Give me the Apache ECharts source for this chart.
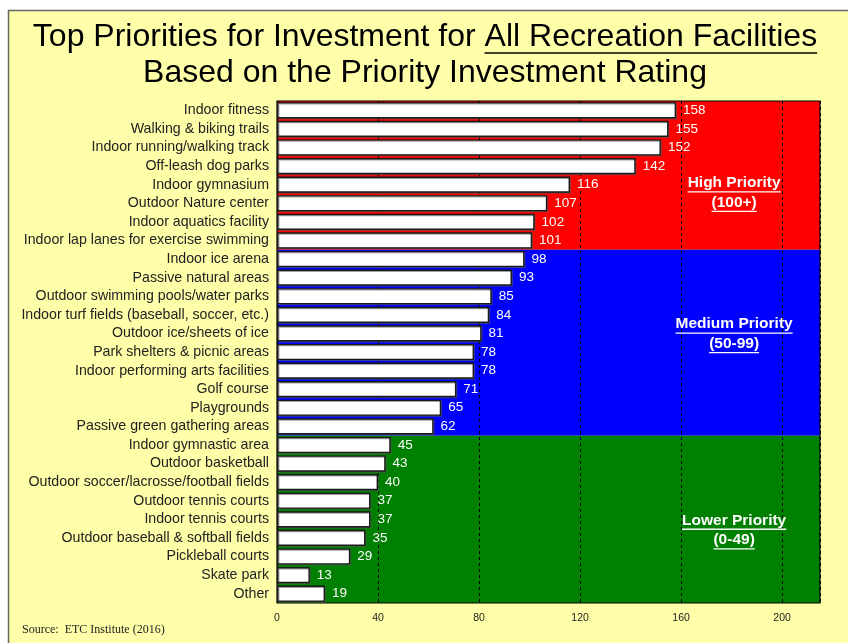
<!DOCTYPE html>
<html>
<head>
<meta charset="utf-8">
<script src="https://cdn.jsdelivr.net/npm/echarts@6/dist/echarts.min.js"></script>
<style>
  html, body { margin: 0; padding: 0; background: #ffffff; }
  #chart { width: 848px; height: 643px; }
</style>
</head>
<body>
<div id="chart"></div>
<script>
// Facilities, ordered top to bottom as listed
const categories = [
  'Indoor fitness',
  'Walking & biking trails',
  'Indoor running/walking track',
  'Off-leash dog parks',
  'Indoor gymnasium',
  'Outdoor Nature center',
  'Indoor aquatics facility',
  'Indoor lap lanes for exercise swimming',
  'Indoor ice arena',
  'Passive natural areas',
  'Outdoor swimming pools/water parks',
  'Indoor turf fields (baseball, soccer, etc.)',
  'Outdoor ice/sheets of ice',
  'Park shelters & picnic areas',
  'Indoor performing arts facilities',
  'Golf course',
  'Playgrounds',
  'Passive green gathering areas',
  'Indoor gymnastic area',
  'Outdoor basketball',
  'Outdoor soccer/lacrosse/football fields',
  'Outdoor tennis courts',
  'Indoor tennis courts',
  'Outdoor baseball & softball fields',
  'Pickleball courts',
  'Skate park',
  'Other'
];

// Priority Investment Rating for each facility
const ratings = [158, 155, 152, 142, 116, 107, 102, 101, 98, 93, 85, 84, 81, 78, 78, 71, 65, 62, 45, 43, 40, 37, 37, 35, 29, 13, 19];

// Rating tiers
const tierNames = ['High Priority', 'Medium Priority', 'Lower Priority'];
const tierRanges = ['(100+)', '(50-99)', '(0-49)'];
const tierFloors = [100, 50, 0];

const axisTicks = [0, 40, 80, 120, 160, 200];
const axisMax = 215;

// ---- styling / layout ----
const tierColors = ['#FF0000', '#0000FF', '#008000'];
const tierLabelRowOffset = [0.9, -0.5, 0.55];   // vertical nudge of tier captions (rows)
const tierLabelX = 181;                          // caption centre on the rating scale
const paper = '#FFFFAA';
const sans = '"Liberation Sans", Arial, sans-serif';

// Row extents of each tier, from the first row that falls below the tier floor
const tierBounds = [];
let start = 0;
tierFloors.forEach((floor, i) => {
  let end = start;
  while (end < ratings.length && ratings[end] >= floor) end++;
  if (i === tierFloors.length - 1) end = ratings.length;
  tierBounds.push([start, end]);
  start = end;
});

const chart = echarts.init(document.getElementById('chart'), null, { renderer: 'canvas' });

const option = {
  backgroundColor: '#ffffff',
  animation: false,
  grid: {
    left: 277, right: 28, top: 101, bottom: 40,
    show: true, borderColor: '#000', borderWidth: 1.2,
    backgroundColor: 'transparent', z: 2.5
  },
  xAxis: {
    type: 'value',
    min: axisTicks[0],
    max: axisMax,
    interval: axisTicks[1] - axisTicks[0],
    z: 2.5,
    axisLine: { show: false },
    axisTick: { show: false },
    axisLabel: {
      showMaxLabel: false,
      margin: 10,
      color: '#222',
      fontSize: 10.5,
      fontFamily: sans
    },
    splitLine: {
      show: true,
      lineStyle: { color: '#000', type: [3, 3], width: 1 }
    }
  },
  yAxis: [
    {
      type: 'category',
      data: categories,
      inverse: true,
      z: 2.5,
      axisLine: { show: false },
      axisTick: { show: false },
      axisLabel: {
        margin: 8,
        color: '#222',
        fontSize: 14.2,
        fontFamily: sans
      }
    },
    {
      type: 'value',
      min: 0,
      max: categories.length,
      inverse: true,
      show: false
    }
  ],
  series: [
    {
      name: 'tiers',
      type: 'line',
      yAxisIndex: 1,
      data: [],
      z: 1,
      silent: true,
      markArea: {
        silent: true,
        data: tierBounds.map((b, i) => [
          { yAxis: b[0], itemStyle: { color: tierColors[i], opacity: 1 } },
          { yAxis: b[1] }
        ])
      }
    },
    {
      name: 'Priority Investment Rating',
      type: 'bar',
      data: ratings,
      z: 3,
      barCategoryGap: '13%',
      itemStyle: {
        color: '#ffffff',
        borderColor: '#1a1a1a',
        borderWidth: 1.4,
        shadowColor: 'rgba(90,90,90,0.55)',
        shadowOffsetX: 1,
        shadowOffsetY: 1,
        shadowBlur: 0
      },
      label: {
        show: true,
        position: 'right',
        distance: 7,
        color: '#ffffff',
        fontSize: 13.5,
        fontFamily: sans
      }
    }
  ]
};

chart.setOption(option);

// ---- text decorations: title, tier captions with underlines, source note ----
const ctx = document.createElement('canvas').getContext('2d');
function textWidth(str, font) { ctx.font = font; return ctx.measureText(str).width; }

const graphics = [];

// page frame
graphics.push({
  type: 'rect', z: -10, silent: true,
  shape: { x: 8.5, y: 10.5, width: 860, height: 660 },
  style: { fill: paper, stroke: '#666', lineWidth: 1.5 }
});

// title
const titleFont = '32px ' + sans;
const t1a = 'Top Priorities for Investment for ';
const t1b = 'All Recreation Facilities';
const wA = textWidth(t1a, titleFont);
const wB = textWidth(t1b, titleFont);
const t1x = 425 - (wA + wB) / 2;
graphics.push(
  { type: 'text', z: 10, style: { text: t1a, x: t1x, y: 37, font: titleFont, fill: '#000', textAlign: 'left', textVerticalAlign: 'middle' } },
  { type: 'text', z: 10, style: { text: t1b, x: t1x + wA, y: 37, font: titleFont, fill: '#000', textAlign: 'left', textVerticalAlign: 'middle' } },
  { type: 'line', z: 10, shape: { x1: t1x + wA, y1: 53, x2: t1x + wA + wB, y2: 53 }, style: { stroke: '#000', lineWidth: 1.6 } },
  { type: 'text', z: 10, style: { text: 'Based on the Priority Investment Rating', x: 425, y: 73, font: titleFont, fill: '#000', textAlign: 'center', textVerticalAlign: 'middle' } }
);

// tier captions
const capFont = 'bold 15.5px ' + sans;
tierBounds.forEach((b, i) => {
  const mid = (b[0] + b[1]) / 2 + tierLabelRowOffset[i];
  const p1 = chart.convertToPixel({ xAxisIndex: 0, yAxisIndex: 1 }, [tierLabelX, mid - 0.5]);
  const p2 = chart.convertToPixel({ xAxisIndex: 0, yAxisIndex: 1 }, [tierLabelX, mid + 0.55]);
  [[tierNames[i], p1], [tierRanges[i], p2]].forEach(([txt, p]) => {
    const w = textWidth(txt, capFont);
    graphics.push(
      { type: 'text', z: 10, style: { text: txt, x: p[0], y: p[1], font: capFont, fill: '#fff', textAlign: 'center', textVerticalAlign: 'middle' } },
      { type: 'line', z: 10, shape: { x1: p[0] - w / 2, y1: p[1] + 9, x2: p[0] + w / 2, y2: p[1] + 9 }, style: { stroke: '#fff', lineWidth: 1.3 } }
    );
  });
});

// source note
graphics.push({
  type: 'text', z: 10,
  style: { text: 'Source:  ETC Institute (2016)', x: 22, y: 630, font: '12px "Liberation Serif", "Times New Roman", serif', fill: '#222', textAlign: 'left', textVerticalAlign: 'middle' }
});

chart.setOption({ graphic: graphics });
</script>
</body>
</html>
